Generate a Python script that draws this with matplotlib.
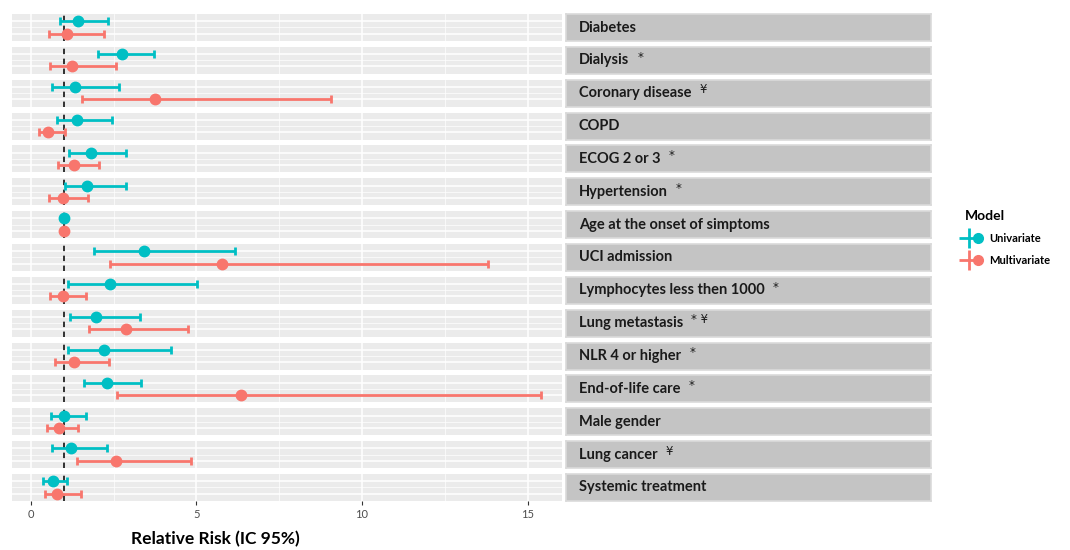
import matplotlib
matplotlib.use("Agg")
import matplotlib.pyplot as plt
from matplotlib.lines import Line2D
from matplotlib.legend_handler import HandlerTuple

plt.rcParams['font.family'] = ['Lato', 'DejaVu Sans']

# risk factors, top to bottom
labels = ["Diabetes", "Dialysis", "Coronary disease", "COPD", "ECOG 2 or 3",
          "Hypertension", "Age at the onset of simptoms", "UCI admission",
          "Lymphocytes less then 1000", "Lung metastasis", "NLR 4 or higher",
          "End-of-life care", "Male gender", "Lung cancer", "Systemic treatment"]
marks = ["", "*", "\u00a5", "", "*", "*", "", "", "*", "* \u00a5", "*", "*", "", "\u00a5", ""]

# univariate: relative risk and 95% CI
uni_rr = [1.43, 2.74, 1.33, 1.38, 1.82, 1.70, 1.01, 3.42, 2.39, 1.97, 2.20, 2.31, 0.99, 1.22, 0.66]
uni_lo = [0.89, 2.02, 0.65, 0.79, 1.14, 1.02, 0.99, 1.91, 1.13, 1.17, 1.13, 1.60, 0.61, 0.64, 0.38]
uni_hi = [2.33, 3.71, 2.66, 2.44, 2.87, 2.87, 1.03, 6.15, 5.03, 3.29, 4.24, 3.34, 1.65, 2.31, 1.09]

# multivariate
mul_rr = [1.09, 1.23, 3.74, 0.51, 1.31, 0.97, 1.01, 5.77, 0.97, 2.88, 1.30, 6.36, 0.85, 2.58, 0.79]
mul_lo = [0.54, 0.58, 1.53, 0.24, 0.83, 0.54, 0.99, 2.39, 0.57, 1.75, 0.72, 2.60, 0.50, 1.38, 0.42]
mul_hi = [2.21, 2.56, 9.05, 1.03, 2.06, 1.73, 1.03, 13.81, 1.67, 4.75, 2.35, 15.41, 1.43, 4.85, 1.51]

TEAL = "#00BFC4"
SALMON = "#F8766D"
W, H = 1070, 550

fig = plt.figure(figsize=(W / 100, H / 100), dpi=100, facecolor="white")

n = len(labels)
top0, pitch, rowh = 14, 32.85, 27
for i in range(n):
    y0 = top0 + i * pitch
    ax = fig.add_axes([12 / W, 1 - (y0 + rowh) / H, 550 / W, rowh / H])
    ax.set_facecolor("#EBEBEB")
    ax.set_xlim(-0.57, 16.04)
    ax.set_ylim(-0.6, 1.6)
    ax.set_xticks([0, 5, 10, 15])
    ax.set_xticks([2.5, 7.5, 12.5], minor=True)
    ax.set_yticks([0, 1])
    ax.set_yticks([0.5], minor=True)
    ax.grid(True, which="major", color="white", linewidth=1.1)
    ax.grid(True, which="minor", color="white", linewidth=0.5)
    ax.set_axisbelow(True)
    for s in ax.spines.values():
        s.set_visible(False)
    ax.tick_params(axis="y", which="both", left=False, labelleft=False)
    ax.axvline(1, color="#222222", linestyle=(0, (3, 2.5)), linewidth=1.3, zorder=2)
    ax.errorbar(uni_rr[i], 1, xerr=[[uni_rr[i] - uni_lo[i]], [uni_hi[i] - uni_rr[i]]],
                fmt="o", color=TEAL, ms=7.5, elinewidth=2, capsize=3, capthick=2, zorder=3)
    ax.errorbar(mul_rr[i], 0, xerr=[[mul_rr[i] - mul_lo[i]], [mul_hi[i] - mul_rr[i]]],
                fmt="o", color=SALMON, ms=7.5, elinewidth=2, capsize=3, capthick=2, zorder=3)
    if i == n - 1:
        ax.tick_params(axis="x", which="major", length=3, color="#333333",
                       labelsize=8, labelcolor="#4D4D4D", pad=3)
        ax.tick_params(axis="x", which="minor", length=0)
        ax.set_xlabel("Relative Risk (IC 95%)", fontsize=12.5, fontweight="bold",
                      labelpad=8, x=0.37)
    else:
        ax.tick_params(axis="x", which="both", bottom=False, labelbottom=False)

    # facet strip on the right
    sx = fig.add_axes([566 / W, 1 - (y0 + rowh) / H, 365 / W, rowh / H])
    sx.set_facecolor("#C4C4C4")
    sx.set_xticks([])
    sx.set_yticks([])
    for s in sx.spines.values():
        s.set_color("#DADADA")
        s.set_linewidth(1.2)
    sx.set_xlim(0, 1)
    sx.set_ylim(0, 1)
    t = sx.text(0.035, 0.5, labels[i], fontsize=10.5, fontweight="bold",
                color="#1A1A1A", va="center", ha="left")
    if marks[i]:
        sx.annotate(marks[i], xy=(1, 1), xycoords=t, xytext=(6, 2),
                    textcoords="offset points", fontsize=8.5, family="DejaVu Sans",
                    color="#1A1A1A", va="top", ha="left")

# legend
h_uni = (Line2D([], [], color=TEAL, marker="+", ms=14, mew=2, ls="none"),
         Line2D([], [], color=TEAL, marker="o", ms=7, ls="none"))
h_mul = (Line2D([], [], color=SALMON, marker="+", ms=14, mew=2, ls="none"),
         Line2D([], [], color=SALMON, marker="o", ms=7, ls="none"))
leg = fig.legend([h_uni, h_mul], ["Univariate", "Multivariate"], title="Model",
                 handler_map={tuple: HandlerTuple(ndivide=None, pad=0)},
                 loc="upper left", bbox_to_anchor=(955 / W, 1 - 200 / H),
                 frameon=False, fontsize=8, handlelength=1.6, handletextpad=0.6,
                 labelspacing=1.0, title_fontsize=10)
leg.get_title().set_fontweight("bold")
leg._legend_box.align = "left"
for txt in leg.get_texts():
    txt.set_fontweight("bold")

fig.savefig("out.png", dpi=100, facecolor="white")
